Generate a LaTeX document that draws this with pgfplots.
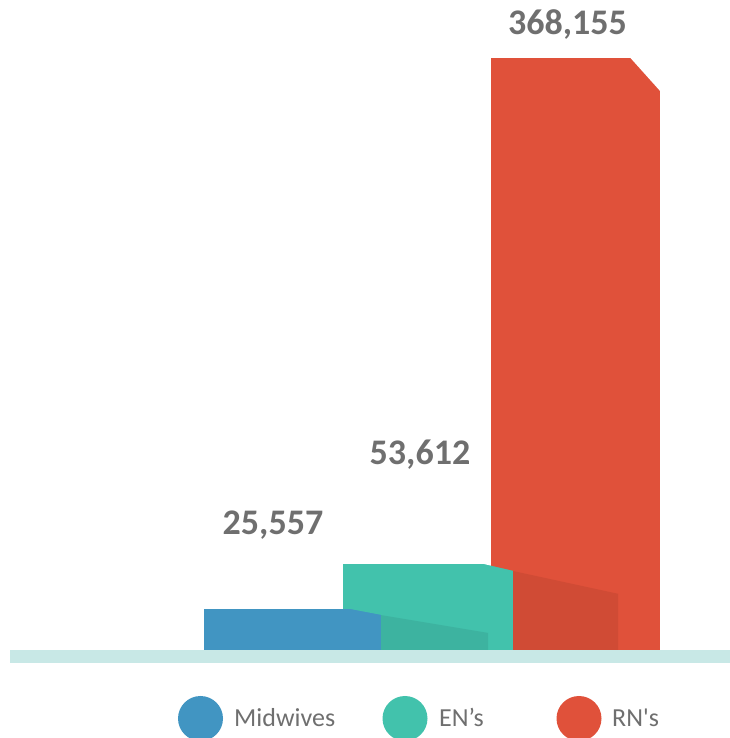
\documentclass[border=0pt]{standalone}
\usepackage{pgfplots}
\pgfplotsset{compat=1.18}
\usepackage{fontspec}
\setmainfont{Carlito}[Ligatures=TeXOff]
\definecolor{cBlue}{RGB}{65,149,194}
\definecolor{cTeal}{RGB}{66,194,172}
\definecolor{cRed}{RGB}{224,81,58}
\definecolor{cTealSh}{RGB}{61,179,160}
\definecolor{cRedSh}{RGB}{208,75,53}
\definecolor{cBand}{RGB}{200,232,230}
\definecolor{cText}{RGB}{111,111,111}
\begin{document}
\begin{tikzpicture}
\begin{axis}[
  scale only axis, width=730bp, height=738bp,
  xmin=0, xmax=730, ymin=-54725.7, ymax=404224,
  hide axis, clip=false]
\coordinate (SW) at (rel axis cs:0,0);
\coordinate (NE) at (rel axis cs:1,1);
% RN's bar
\addplot[ybar, bar shift=0pt, bar width=169, fill=cRed, draw=none] coordinates {(575.5,368155)};
\fill[white] (axis cs:630,368500) -- (axis cs:661,368500) -- (axis cs:661,347011) -- cycle;
\fill[white] (axis cs:490.5,368155) -- ++(0,-8bp) arc[start angle=180, end angle=90, radius=8bp] -- cycle;
% shadow of EN's on RN's
\fill[cRedSh] (axis cs:512,49259) -- (axis cs:618,34956) -- (axis cs:618,0) -- (axis cs:512,0) -- cycle;
% EN's bar
\addplot[ybar, bar shift=0pt, bar width=170, fill=cTeal, draw=none] coordinates {(428,53612)};
\fill[white] (axis cs:483,53612) -- (axis cs:491,53612) -- (axis cs:491,52470) -- cycle;
\fill[cRed] (axis cs:491,53612) -- (axis cs:513.5,53612) -- (axis cs:513.5,49259) -- (axis cs:491,52470) -- cycle;
\fill[white] (axis cs:342.8,53612) -- ++(0,-5bp) arc[start angle=180, end angle=90, radius=5bp] -- cycle;
% shadow of Midwives on EN's
\fill[cTealSh] (axis cs:380,21826) -- (axis cs:488,10632) -- (axis cs:488,0) -- (axis cs:380,0) -- cycle;
% Midwives bar
\addplot[ybar, bar shift=0pt, bar width=177, fill=cBlue, draw=none] coordinates {(292.5,25557)};
\fill[cTeal] (axis cs:350,25557) -- (axis cs:381.5,25557) -- (axis cs:381.5,21826) -- cycle;
\fill[white] (axis cs:203.8,25557) -- ++(0,-5bp) arc[start angle=180, end angle=90, radius=5bp] -- cycle;
% baseline band
\fill[cBand] (axis cs:10,0) rectangle (axis cs:730,-8084);
% value labels
\node[anchor=base, inner sep=0pt, text=cText, font=\bfseries\fontsize{36bp}{40bp}\selectfont] at (axis cs:273,71517) {25,557};
\node[anchor=base, inner sep=0pt, text=cText, font=\bfseries\fontsize{36bp}{40bp}\selectfont] at (axis cs:420,115048) {53,612};
\node[anchor=base, inner sep=0pt, text=cText, font=\bfseries\fontsize{36bp}{40bp}\selectfont] at (axis cs:567.5,382458) {368,155};
% legend
\fill[cBlue] (axis cs:200.5,-42599) circle[radius=22.5bp];
\fill[cTeal] (axis cs:405,-42599) circle[radius=22.5bp];
\fill[cRed] (axis cs:579,-42599) circle[radius=22.5bp];
\node[anchor=base west, inner sep=0pt, text=cText, font=\fontsize{26bp}{30bp}\selectfont] at (axis cs:234,-47885) {Midwives};
\node[anchor=base west, inner sep=0pt, text=cText, font=\fontsize{26bp}{30bp}\selectfont] at (axis cs:439,-47885) {EN’s};
\node[anchor=base west, inner sep=0pt, text=cText, font=\fontsize{26bp}{30bp}\selectfont] at (axis cs:612,-47885) {RN's};
\end{axis}
\pgfresetboundingbox
\path (SW) rectangle (NE);
\end{tikzpicture}
\end{document}
